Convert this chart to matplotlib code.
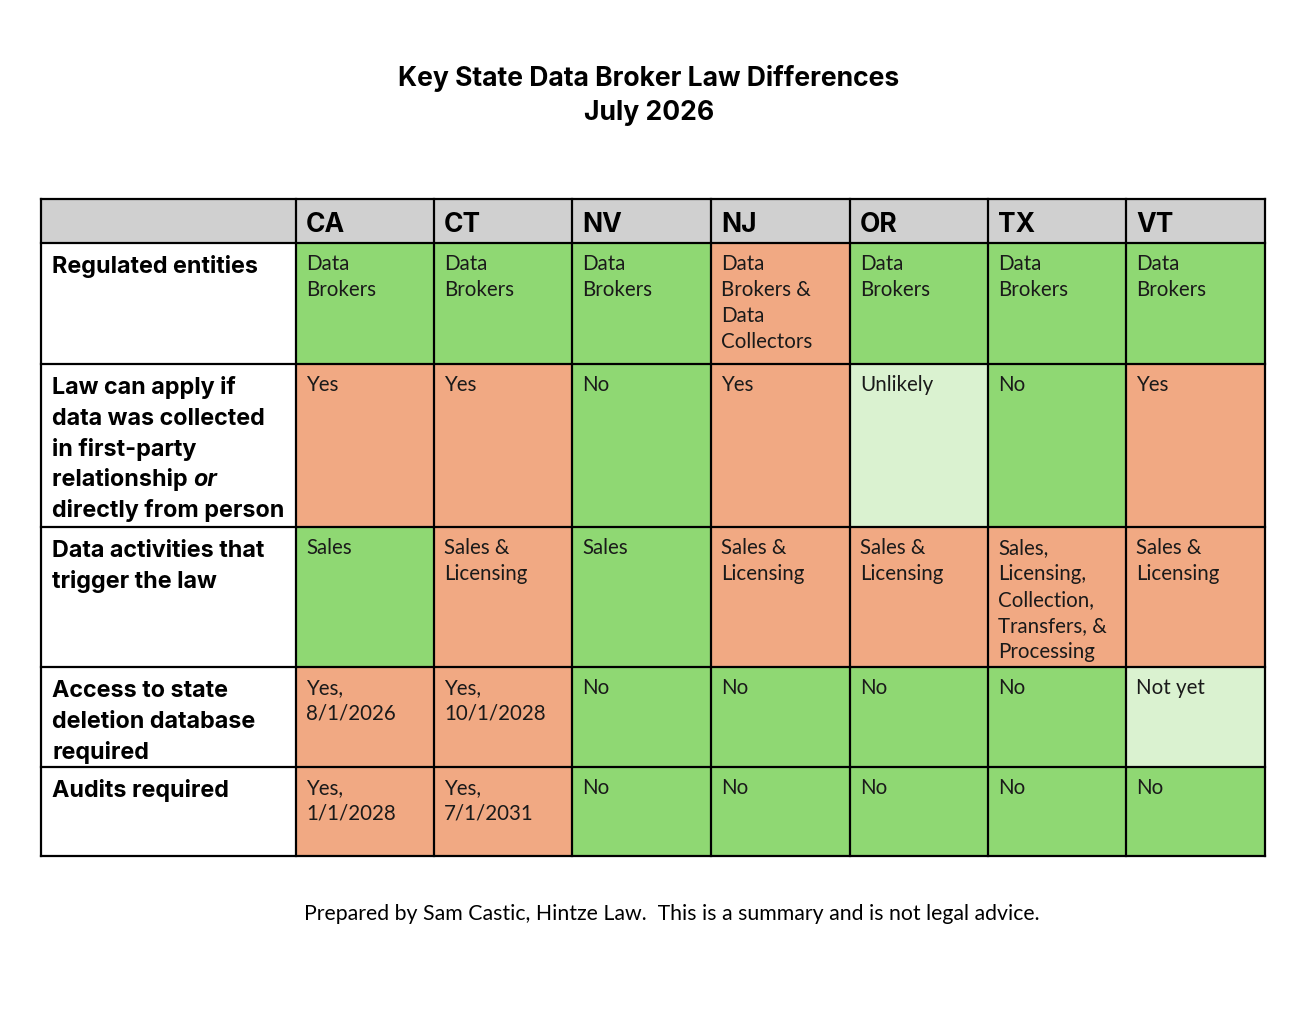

# Key state data broker law differences - table drawn with matplotlib
import matplotlib.pyplot as plt
from matplotlib.patches import Rectangle

plt.rcParams['font.family'] = ['Lato', 'DejaVu Sans']
bold_font = ['Inter', 'Lato', 'DejaVu Sans']

# data
title_lines = ['Key State Data Broker Law Differences', 'July 2026']
footer = 'Prepared by Sam Castic, Hintze Law.  This is a summary and is not legal advice.'

states = ['CA', 'CT', 'NV', 'NJ', 'OR', 'TX', 'VT']

row_labels = [
    ['Regulated entities'],
    ['Law can apply if', 'data was collected', 'in first-party', 'relationship |or', 'directly from person'],
    ['Data activities that', 'trigger the law'],
    ['Access to state', 'deletion database', 'required'],
    ['Audits required'],
]

cell_text = [
    ['Data\nBrokers', 'Data\nBrokers', 'Data\nBrokers', 'Data\nBrokers &\nData\nCollectors',
     'Data\nBrokers', 'Data\nBrokers', 'Data\nBrokers'],
    ['Yes', 'Yes', 'No', 'Yes', 'Unlikely', 'No', 'Yes'],
    ['Sales', 'Sales &\nLicensing', 'Sales', 'Sales &\nLicensing', 'Sales &\nLicensing',
     'Sales,\nLicensing,\nCollection,\nTransfers, &\nProcessing', 'Sales &\nLicensing'],
    ['Yes,\n8/1/2026', 'Yes,\n10/1/2028', 'No', 'No', 'No', 'No', 'Not yet'],
    ['Yes,\n1/1/2028', 'Yes,\n7/1/2031', 'No', 'No', 'No', 'No', 'No'],
]

# g = favourable, o = broader / stricter, l = partly
cell_kind = [
    ['g', 'g', 'g', 'o', 'g', 'g', 'g'],
    ['o', 'o', 'g', 'o', 'l', 'g', 'o'],
    ['g', 'o', 'g', 'o', 'o', 'o', 'o'],
    ['o', 'o', 'g', 'g', 'g', 'g', 'l'],
    ['o', 'o', 'g', 'g', 'g', 'g', 'g'],
]

colors = {'g': '#8fd873', 'o': '#f1a983', 'l': '#daf2d0'}
header_color = '#d0d0d0'

# layout (pixel coords)
W, H = 1309, 1012
col_x = [41, 296, 434, 572, 711, 850, 988, 1126, 1265]
row_y = [200, 244, 365, 528, 668, 768, 857]

fig = plt.figure(figsize=(W / 100, H / 100), dpi=100)
ax = fig.add_axes([0, 0, 1, 1])
ax.set_xlim(0, W)
ax.set_ylim(H, 0)
ax.axis('off')

# title + footer
ax.text(649, 86, title_lines[0], ha='center', va='baseline', fontsize=19.1,
        fontweight='bold', family=bold_font)
ax.text(649, 120, title_lines[1], ha='center', va='baseline', fontsize=19.1,
        fontweight='bold', family=bold_font)
ax.text(672, 920, footer, ha='center', va='baseline', fontsize=15.3)

# header row
ax.add_patch(Rectangle((col_x[0], row_y[0]), col_x[-1] - col_x[0], row_y[1] - row_y[0],
                       facecolor=header_color, edgecolor='none'))
for j, st in enumerate(states):
    ax.text(col_x[j + 1] + 10, row_y[0] + 32, st, ha='left', va='baseline',
            fontsize=19, fontweight='bold', family=bold_font)

fig.canvas.draw()
renderer = fig.canvas.get_renderer()

# body
lab_size = 16.8
for i in range(len(row_labels)):
    top = row_y[i + 1]
    bot = row_y[i + 2]
    for k, line in enumerate(row_labels[i]):
        yb = top + 29 + k * 30.8
        if '|' in line:
            a, b = line.split('|')
            t = ax.text(52, yb, a, ha='left', va='baseline', fontsize=lab_size,
                        fontweight='bold', family=bold_font)
            bb = t.get_window_extent(renderer)
            x_end = ax.transData.inverted().transform((bb.x1, bb.y0))[0]
            ax.text(x_end, yb, b, ha='left', va='baseline', fontsize=lab_size,
                    fontweight='bold', fontstyle='italic', family=bold_font)
        else:
            ax.text(52, yb, line, ha='left', va='baseline', fontsize=lab_size,
                    fontweight='bold', family=bold_font)

    for j in range(len(states)):
        x0 = col_x[j + 1]
        ax.add_patch(Rectangle((x0, top), col_x[j + 2] - x0, bot - top,
                               facecolor=colors[cell_kind[i][j]], edgecolor='none'))
        for k, line in enumerate(cell_text[i][j].split('\n')):
            ax.text(x0 + 10, top + 26 + k * 26, line, ha='left', va='baseline',
                    fontsize=14.8, color='#1a1a1a')

# grid lines
for x in col_x:
    ax.plot([x, x], [row_y[0], row_y[-1]], color='black', lw=1.6, solid_capstyle='projecting')
for y in row_y:
    ax.plot([col_x[0], col_x[-1]], [y, y], color='black', lw=1.6, solid_capstyle='projecting')

plt.savefig('out.png', dpi=100)
